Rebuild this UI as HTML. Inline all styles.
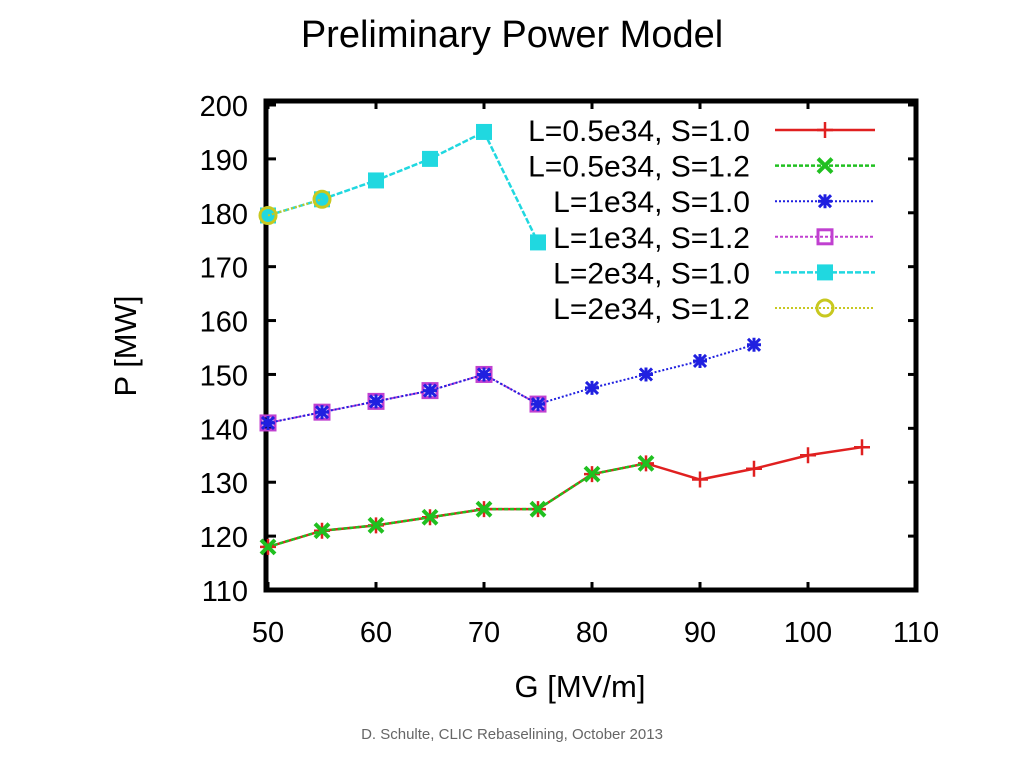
<!DOCTYPE html>
<html><head><meta charset="utf-8"><style>
body{margin:0;background:#fff;width:1024px;height:768px;overflow:hidden;font-family:"Liberation Sans",sans-serif}
</style></head><body>
<svg width="1024" height="768">
<text x="512" y="47" text-anchor="middle" font-size="38" font-family="Liberation Sans">Preliminary Power Model</text>
<text x="512" y="739" text-anchor="middle" font-size="15" fill="#666">D. Schulte, CLIC Rebaselining, October 2013</text>
<g id="ax"></g>
<g id="plot"></g>
<g id="legend"></g>
</svg>
<script>
const xTicks=[50,60,70,80,90,100,110];
const yTicks=[110,120,130,140,150,160,170,180,190,200];
const g05s10x=[50,55,60,65,70,75,80,85,90,95,100,105];
const g05s10y=[118,121,122,123.5,125,125,131.5,133.5,130.5,132.5,135,136.5];
const g05s12x=[50,55,60,65,70,75,80,85];
const g05s12y=[118,121,122,123.5,125,125,131.5,133.5];
const g1s10x=[50,55,60,65,70,75,80,85,90,95];
const g1s10y=[141,143,145,147,150,144.5,147.5,150,152.5,155.5];
const g1s12x=[50,55,60,65,70,75];
const g1s12y=[141,143,145,147,150,144.5];
const g2s10x=[50,55,60,65,70,75];
const g2s10y=[179.5,182.5,186,190,195,174.5];
const g2s12x=[50,55];
const g2s12y=[179.5,182.5];
const labels=["L=0.5e34, S=1.0","L=0.5e34, S=1.2","L=1e34, S=1.0","L=1e34, S=1.2","L=2e34, S=1.0","L=2e34, S=1.2"];
const NS="http://www.w3.org/2000/svg";
const X0=268,X1=916,Y0=590,Y1=105;
const sx=v=>X0+(v-50)/60*(X1-X0);
const sy=v=>Y0-(v-110)/90*(Y0-Y1);
function mk(t,a,p){const e=document.createElementNS(NS,t);for(const k in a)e.setAttribute(k,a[k]);p.appendChild(e);return e;}
const ax=document.getElementById('ax'),pl=document.getElementById('plot'),lg=document.getElementById('legend');
let fr=mk('rect',{x:X0-2,y:101,width:X1-X0+2,height:Y0-101,fill:'none',stroke:'#000','stroke-width':5},ax);


xTicks.forEach(v=>{
 mk('line',{x1:sx(v),x2:sx(v),y1:Y0,y2:Y0-8,stroke:'#000','stroke-width':3},ax);
 mk('line',{x1:sx(v),x2:sx(v),y1:101,y2:109,stroke:'#000','stroke-width':3},ax);
 const t=mk('text',{x:sx(v),y:642,'text-anchor':'middle','font-size':29},ax);t.textContent=v;
 
 
});
yTicks.forEach(v=>{
 mk('line',{x1:X0,x2:X0+8,y1:sy(v),y2:sy(v),stroke:'#000','stroke-width':3},ax);
 mk('line',{x1:X1,x2:X1-8,y1:sy(v),y2:sy(v),stroke:'#000','stroke-width':3},ax);
 const t=mk('text',{x:248,y:sy(v)+11,'text-anchor':'end','font-size':29},ax);t.textContent=v;
 
 
});
let xl=mk('text',{x:580,y:697,'text-anchor':'middle','font-size':31},ax);xl.textContent='G [MV/m]';


let yl=mk('text',{x:136,y:346,'text-anchor':'middle','font-size':31,transform:'rotate(-90 136 346)'},ax);yl.textContent='P [MW]';


function marker(type,x,y,col,p){
 if(type==='plus'){mk('path',{d:`M${x-8} ${y}H${x+8}M${x} ${y-8}V${y+8}`,stroke:col,'stroke-width':2.5},p);}
 else if(type==='x'){mk('path',{d:`M${x-7} ${y-7}L${x+7} ${y+7}M${x+7} ${y-7}L${x-7} ${y+7}`,stroke:col,'stroke-width':4},p);}
 else if(type==='star'){mk('path',{d:`M${x-6} ${y-6}L${x+6} ${y+6}M${x+6} ${y-6}L${x-6} ${y+6}M${x-7} ${y}H${x+7}M${x} ${y-7}V${y+7}`,stroke:col,'stroke-width':3},p);}
 else if(type==='osq'){mk('rect',{x:x-7,y:y-7,width:14,height:14,fill:'none',stroke:col,'stroke-width':3},p);}
 else if(type==='sq'){mk('rect',{x:x-8,y:y-8,width:16,height:16,fill:col},p);}
 else if(type==='oc'){mk('circle',{cx:x,cy:y,r:8,fill:'none',stroke:col,'stroke-width':3},p);}
}
const series=[
 [g05s10x,g05s10y,'#e02020','plus','',2.5,'series-l05-s10'],
 [g05s12x,g05s12y,'#20c020','x','4 2',2.5,'series-l05-s12'],
 [g1s12x,g1s12y,'#c040d0','osq','3 2',2,'series-l1-s12'],
 [g1s10x,g1s10y,'#2020e0','star','2 2',2,'series-l1-s10'],
 [g2s10x,g2s10y,'#20d8e0','sq','6 2',2.5,'series-l2-s10'],
 [g2s12x,g2s12y,'#c8c820','oc','2 2',2,'series-l2-s12']
];
const legOrder=[0,1,3,2,4,5];
series.forEach((s,i)=>{
 const g=mk('g',{},pl);
 
 
 const d=s[0].map((v,j)=>(j?'L':'M')+sx(v)+' '+sy(s[1][j])).join('');
 mk('path',{d:d,fill:'none',stroke:s[2],'stroke-width':s[5],'stroke-dasharray':s[4]},g);
 s[0].forEach((v,j)=>marker(s[3],sx(v),sy(s[1][j]),s[2],g));
});
legOrder.forEach((si,k)=>{
 const s=series[si];const y=130+k*35.6;
 const g=mk('g',{},lg);
 
 
 const t=mk('text',{x:750,y:y+11,'text-anchor':'end','font-size':30},g);t.textContent=labels[k];
 mk('line',{x1:775,x2:875,y1:y,y2:y,stroke:s[2],'stroke-width':s[5],'stroke-dasharray':s[4]},g);
 marker(s[3],825,y,s[2],g);
});
</script>
</body></html>
